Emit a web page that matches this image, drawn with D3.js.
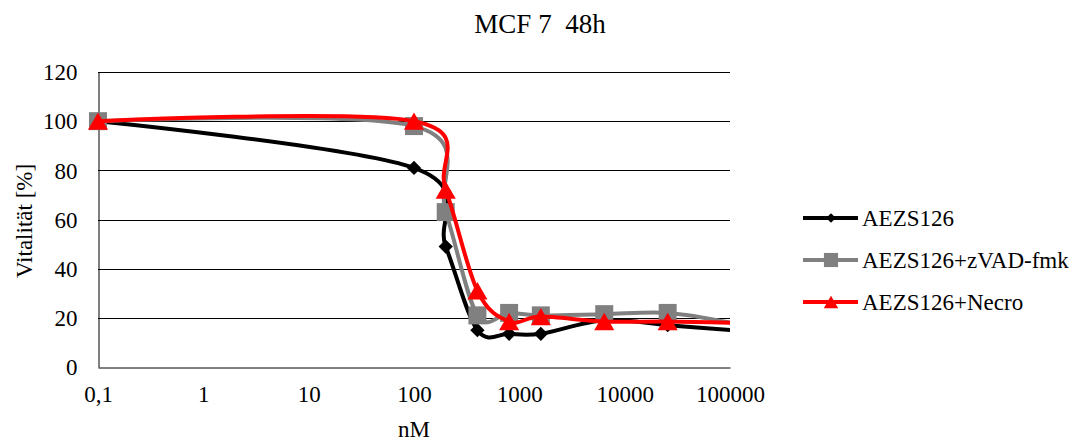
<!DOCTYPE html>
<html>
<head>
<meta charset="utf-8">
<script src="https://cdn.jsdelivr.net/npm/d3@7"></script>
<style>
  body { margin: 0; background: #fff; }
</style>
</head>
<body>
<div id="container"></div>
<script>
/* DATA */
const doses = [0.1, 100, 200, 400, 800, 1600, 6400, 25600, 102400];
const aezs = [100, 81, 49, 15, 13.5, 13.5, 19, 17, 15];
const aezsZvad = [100, 98, 63, 21, 22, 21, 21.5, 22, 18];
const aezsNecro = [100, 100, 72, 31, 18.5, 20.5, 18.5, 18.5, 18];
const seriesNames = ["AEZS126", "AEZS126+zVAD-fmk", "AEZS126+Necro"];
const xTicks = [0.1, 1, 10, 100, 1000, 10000, 100000];
const yTicks = [0, 20, 40, 60, 80, 100, 120];

/* CONSTANTS */
const width = 1087, height = 443;
const margin = { top: 72, bottom: 76, left: 98, right: 357 };
const fontFam = '"Liberation Serif"';
const fontSize = "23px";

const series = [
  { name: seriesNames[0], values: aezs, color: "#000000", marker: "diamond" },
  { name: seriesNames[1], values: aezsZvad, color: "#808080", marker: "square" },
  { name: seriesNames[2], values: aezsNecro, color: "#ff0000", marker: "triangle" }
];

const svg = d3.select("#container")
  .append("svg")
  .attr("width", width)
  .attr("height", height);

const xScale = d3.scaleLog()
  .domain([0.1, 100000])
  .range([margin.left, width - margin.right]);

const yScale = d3.scaleLinear()
  .domain([0, 120])
  .range([height - margin.bottom, margin.top]);

// gridlines
svg.append("g")
  .selectAll("line")
  .data(yTicks.filter(d => d > 0))
  .join("line")
  .attr("x1", margin.left)
  .attr("x2", width - margin.right)
  .attr("y1", d => Math.round(yScale(d)) + 0.5)
  .attr("y2", d => Math.round(yScale(d)) + 0.5)
  .attr("stroke", "#000")
  .attr("stroke-width", 1);

// axes
const xAxis = d3.axisBottom(xScale)
  .tickValues(xTicks)
  .tickFormat(d => d === 0.1 ? "0,1" : String(d))
  .tickSize(0);

const yAxis = d3.axisLeft(yScale)
  .tickValues(yTicks)
  .tickSize(0)
  .tickPadding(21);

const gx = svg.append("g")
  .attr("transform", `translate(0, ${Math.round(yScale(0)) + 0.5})`)
  .call(xAxis)
  .attr("font-family", null)
  .attr("font-size", null);
gx.select(".domain").attr("stroke", "#000");
gx.selectAll(".tick text")
  .attr("y", 34)
  .attr("dy", 0)
  .style("font-size", fontSize)
  .style("font-family", fontFam);

const gy = svg.append("g")
  .attr("transform", `translate(${margin.left + 0.5}, 0)`)
  .call(yAxis)
  .attr("font-family", null)
  .attr("font-size", null);
gy.select(".domain").attr("stroke", "#000");
gy.selectAll(".tick text")
  .attr("dy", "0.34em")
  .style("font-size", fontSize)
  .style("font-family", fontFam);

// clip to plot area
svg.append("clipPath")
  .attr("id", "plot-clip")
  .append("rect")
  .attr("x", margin.left - 12)
  .attr("y", 0)
  .attr("width", width - margin.right - margin.left + 12)
  .attr("height", height);

const line = d3.line()
  .x((d, i) => xScale(doses[i]))
  .y(d => yScale(d))
  .curve(d3.curveCardinal);

// marker shapes, plot size and legend size
const markerSym = {
  diamond: d3.symbol().type(d3.symbolDiamond2).size(130),
  square: d3.symbol().type(d3.symbolSquare).size(324),
  triangle: d3.symbol().type(d3.symbolTriangle).size(175)
};
const legendSym = {
  diamond: d3.symbol().type(d3.symbolDiamond2).size(60),
  square: d3.symbol().type(d3.symbolSquare).size(200),
  triangle: d3.symbol().type(d3.symbolTriangle).size(90)
};
// triangles: centre the bounding box, not the centroid
const triShift = size => Math.sqrt(size / (3 * Math.sqrt(3))) / 2;

const plot = svg.append("g").attr("clip-path", "url(#plot-clip)");

series.forEach(s => {
  const g = plot.append("g");
  g.append("path")
    .datum(s.values)
    .attr("d", line)
    .attr("fill", "none")
    .attr("stroke", s.color)
    .attr("stroke-width", 4);
  g.selectAll("path.marker")
    .data(s.values.filter((d, i) => doses[i] <= 100000))
    .join("path")
    .attr("class", "marker")
    .attr("d", markerSym[s.marker])
    .attr("transform", (d, i) => {
      const dy = s.marker === "triangle" ? triShift(175) : 0;
      return `translate(${xScale(doses[i])}, ${yScale(d) + dy})`;
    })
    .attr("fill", s.color);
});

// title
svg.append("text")
  .attr("x", 540)
  .attr("y", 33)
  .attr("text-anchor", "middle")
  .style("font-family", fontFam)
  .style("font-size", "27px")
  .style("white-space", "pre")
  .text("MCF 7  48h");

// axis titles
svg.append("text")
  .attr("x", (margin.left + width - margin.right) / 2)
  .attr("y", 437)
  .attr("text-anchor", "middle")
  .style("font-family", fontFam)
  .style("font-size", fontSize)
  .text("nM");

svg.append("text")
  .attr("transform", "rotate(-90)")
  .attr("x", -221)
  .attr("y", 32)
  .attr("text-anchor", "middle")
  .style("font-family", fontFam)
  .style("font-size", fontSize)
  .text("Vitalität [%]");

// legend
const legend = svg.append("g")
  .selectAll("g")
  .data(series)
  .join("g")
  .attr("transform", (d, i) => `translate(803, ${218 + i * 42})`);

legend.append("line")
  .attr("x1", 0)
  .attr("x2", 55)
  .attr("stroke", d => d.color)
  .attr("stroke-width", 4);

legend.append("path")
  .attr("d", d => legendSym[d.marker]())
  .attr("transform", d => `translate(28, ${d.marker === "triangle" ? triShift(90) : 0})`)
  .attr("fill", d => d.color);

legend.append("text")
  .attr("x", 59)
  .attr("y", 8)
  .style("font-family", fontFam)
  .style("font-size", fontSize)
  .text(d => d.name);
</script>
</body>
</html>
